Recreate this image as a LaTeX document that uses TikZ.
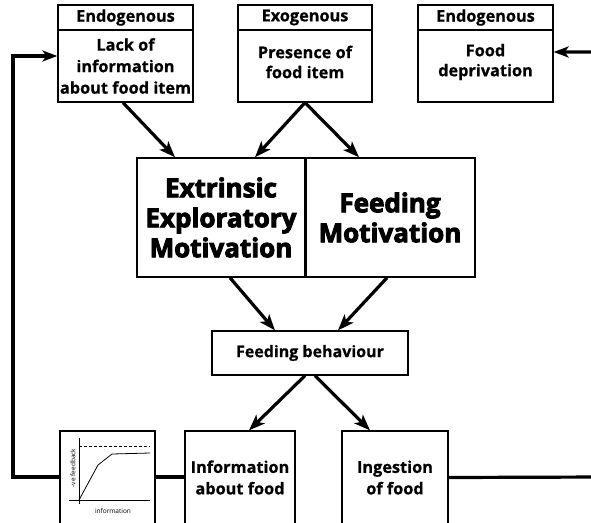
\documentclass[tikz,border=0pt]{standalone}
\usepackage{fontspec}
\setmainfont{Open Sans}[BoldFeatures={FakeBold=0.6}]
\newfontfamily\heavy{Open Sans Bold}[FakeBold=3.5]
\usetikzlibrary{arrows.meta,positioning}
\tikzset{
  box/.style={draw,line width=1.3pt,inner sep=0pt,align=center,font=\bfseries\fontsize{16.3}{21.5}\selectfont},
  bigbox/.style={draw,line width=1.5pt,inner sep=0pt,align=center,font=\heavy\fontsize{26}{30}\selectfont},
  txt/.style={inner sep=0pt,align=center,font=\bfseries\fontsize{16.3}{20}\selectfont},
  arr/.style={line width=3.2pt,-{Stealth[length=16pt,width=12pt,inset=4pt]}},
  fb/.style={line width=3.2pt},
  tiny/.style={inner sep=0pt,font=\fontsize{6.5}{7}\selectfont}
}
\begin{document}
\begin{tikzpicture}[x=1pt,y=-1pt]
\useasboundingbox (0,0) rectangle (591,522);
\clip (0,0) rectangle (591,522);
% top boxes
\node[box,minimum width=135,minimum height=25] (h1) at (125.5,17.5) {Endogenous};
\node[box,minimum width=135,minimum height=72] (b1) at (125.5,66) {Lack of\\information\\about food item};
\node[box,minimum width=134,minimum height=25] (h2) at (305,17.5) {Exogenous};
\node[box,minimum width=134,minimum height=72] (b2) at (305,66) {};
\node[txt] (t2) at (305,62) {Presence of\\food item};
\node[box,minimum width=135,minimum height=25] (h3) at (485.5,17.5) {Endogenous};
\node[box,minimum width=135,minimum height=72] (b3) at (485.5,66) {};
\node[txt] (t3) at (485.5,62) {Food\\deprivation};
% motivation boxes
\node[bigbox,minimum width=168,minimum height=119] (ext) at (221,217.5) {Extrinsic\\Exploratory\\Motivation};
\node[bigbox,minimum width=170,minimum height=119] (feed) at (390,217.5) {Feeding\\Motivation};
\draw[line width=3pt] (ext.north east) -- (ext.south east);
% feeding behaviour
\node[box,font=\bfseries\fontsize{16}{20}\selectfont,minimum width=196,minimum height=44] (fbh) at (310,353) {Feeding behaviour};
% bottom boxes
\node[box,minimum width=95,minimum height=100] (gr) at (107.5,481) {};
\node[box,minimum width=110,minimum height=93] (info) at (240,477.5) {Information\\about food};
\node[box,minimum width=106,minimum height=93] (ing) at (395,477.5) {Ingestion\\of food};
% graph inside
\draw[line width=0.9pt] (79,438) coordinate (ya) -- (79,504);
\draw[line width=0.9pt] (69,500) -- (150,500) coordinate (xa);
\draw[line width=0.8pt] (79,500) -- (98,465) -- (112,454) -- (150,453);
\draw[line width=0.8pt,dash pattern=on 3pt off 2pt] (79,446) -- (150,446);
\node[tiny,rotate=90] (yl) at (73,468) {-ve feedback};
\node[tiny] (xl) at (113,511) {information};
% arrows
\draw[arr] ([xshift=-2.5]b1.south) -- ([xshift=-46]ext.north);
\draw[arr] (b2.south) -- ([xshift=34]ext.north);
\draw[arr] (b2.south) -- ([xshift=-31]feed.north);
\draw[arr] ([xshift=9]ext.south) -- ([xshift=-35]fbh.north);
\draw[arr] ([xshift=-3]feed.south) -- ([xshift=28]fbh.north);
\draw[arr] ([xshift=-5]fbh.south) -- ([xshift=9]info.north);
\draw[arr] ([xshift=5]fbh.south) -- ([xshift=-25]ing.north);
% feedback loops
\coordinate (lc1) at (13,477);
\coordinate (lc2) at (13,56);
\draw[fb,-{Stealth[length=15pt,width=11pt,inset=4pt]}] (gr.west |- 0,477) -- (lc1) -- (lc2) -- (b1.west |- lc2);
\draw[fb] (gr.east |- 0,477) -- (info.west |- 0,477);
\coordinate (rc1) at (605,477);
\coordinate (rc2) at (605,52);
\draw[fb,-{Stealth[length=15pt,width=11pt,inset=4pt]}] (ing.east) -- (rc1) -- (rc2) -- (b3.east |- rc2);
\end{tikzpicture}
\end{document}
